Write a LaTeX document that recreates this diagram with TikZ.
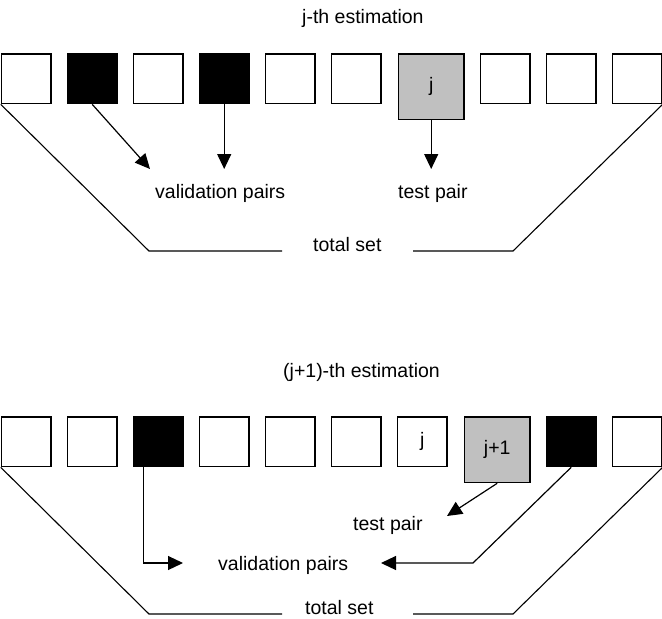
\documentclass[tikz,border=0pt]{standalone}
\usepackage{fontspec}
\setmainfont{Liberation Sans}
\usetikzlibrary{arrows.meta,positioning}
\definecolor{testgray}{RGB}{192,192,192}
\tikzset{
  cell/.style={draw,line width=1.3pt,minimum size=49.7pt,inner sep=0pt,anchor=north west,
    font=\fontsize{19.5}{23}\selectfont},
  valcell/.style={cell,fill=black},
  testcell/.style={cell,fill=testgray,minimum size=65.7pt},
  lbl/.style={anchor=base west,inner sep=0pt,font=\fontsize{19.5}{23}\selectfont},
  arr/.style={line width=1.2pt,-{Triangle[length=15pt,width=14pt]}},
  brace/.style={line width=1.1pt},
}
\begin{document}
\begin{tikzpicture}[x=1pt,y=-1pt]
  \useasboundingbox (0,0) rectangle (662,619);
  % j-th estimation
  \node[lbl] (title1) at (302,23) {j-th estimation};
  \foreach \i/\x/\s in {1/0/cell,2/66/valcell,3/132/cell,4/198/valcell,5/264/cell,
      6/330/cell,7/397/testcell,8/479/cell,9/545/cell,10/611/cell}
    \node[\s] (a\i) at (\x+0.7,53.3) {};
  \node[font=\fontsize{19.5}{23}\selectfont] (a7j) at (a7.center) {j};
  \coordinate (v1) at (150,169);
  \draw[arr] (a2.south) -- (v1);
  \draw[arr] (a4.south) -- (a4.south |- v1);
  \draw[arr] (a7.south) -- (a7.south |- v1);
  \node[lbl] (val1) at (155,198) {validation pairs};
  \node[lbl] (test1) at (398,198) {test pair};
  \node[lbl] (tot1) at (313,251) {total set};
  \coordinate (l1) at (149,251);
  \coordinate (l1e) at (282,251);
  \coordinate (r1) at (513,251);
  \coordinate (r1e) at (413,251);
  \draw[brace] (a1.south west) -- (l1) -- (l1e);
  \draw[brace] (a10.south east) -- (r1) -- (r1e);
  % (j+1)-th estimation
  \node[lbl] (title2) at (283,377) {(j+1)-th estimation};
  \foreach \i/\x/\s in {1/0/cell,2/66/cell,3/132/valcell,4/198/cell,5/264/cell,
      6/330/cell,7/396/cell,8/463/testcell,9/545/valcell,10/611/cell}
    \node[\s] (b\i) at (\x+0.7,416.3) {};
  \node[font=\fontsize{19.5}{23}\selectfont] (b7j) at (b7.center) {j};
  \node[font=\fontsize{19.5}{23}\selectfont] (b8j) at (b8.center) {j+1};
  \coordinate (v2a) at (183,563);
  \coordinate (v2b) at (473,563);
  \coordinate (v2c) at (381,563);
  \coordinate (t2) at (447,516);
  \draw[arr] ([xshift=-15pt]b3.south) |- (v2a);
  \draw[arr] (b9.south) -- (v2b) -- (v2c);
  \draw[arr] (b8.south) -- (t2);
  \node[lbl] (val2) at (218,570) {validation pairs};
  \node[lbl] (test2) at (353,530) {test pair};
  \node[lbl] (tot2) at (305,614) {total set};
  \coordinate (l2) at (149,614);
  \coordinate (l2e) at (282,614);
  \coordinate (r2) at (513,614);
  \coordinate (r2e) at (413,614);
  \draw[brace] (b1.south west) -- (l2) -- (l2e);
  \draw[brace] (b10.south east) -- (r2) -- (r2e);
\end{tikzpicture}
\end{document}
